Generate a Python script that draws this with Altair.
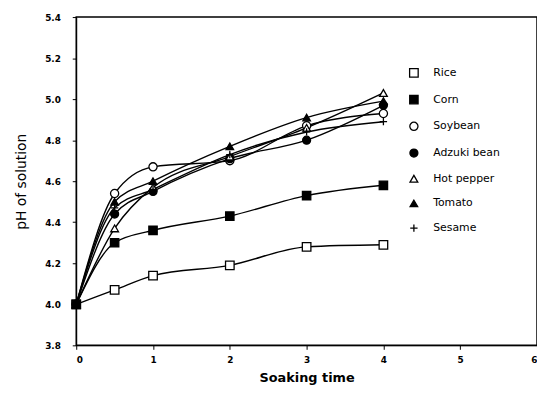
import altair as alt
import pandas as pd

times = [0, 0.5, 1, 2, 3, 4]
crops = ["Rice", "Corn", "Soybean", "Adzuki  bean", "Hot  pepper", "Tomato", "Sesame"]
rice = [4.00, 4.07, 4.14, 4.19, 4.28, 4.29]
corn = [4.00, 4.30, 4.36, 4.43, 4.53, 4.58]
soybean = [4.00, 4.54, 4.67, 4.70, 4.87, 4.93]
adzuki = [4.00, 4.44, 4.55, 4.71, 4.80, 4.97]
hot_pepper = [4.00, 4.37, 4.57, 4.72, 4.86, 5.03]
tomato = [4.00, 4.50, 4.60, 4.77, 4.91, 4.99]
sesame = [4.00, 4.47, 4.56, 4.73, 4.84, 4.89]
x_ticks = [0, 1, 2, 3, 4, 5, 6]
y_ticks = [3.8, 4.0, 4.2, 4.4, 4.6, 4.8, 5.0, 5.2, 5.4]

series = [rice, corn, soybean, adzuki, hot_pepper, tomato, sesame]
rows = []
for name, vals in zip(crops, series):
    for t, v in zip(times, vals):
        rows.append({"crop": name, "time": t, "ph": v})
df = pd.DataFrame(rows)

shapes = ["square", "square", "circle", "circle", "triangle-up", "triangle-up",
          "M-1,0L1,0M0,-1L0,1"]
fills = ["white", "black", "white", "black", "white", "black", "black"]
strokes = ["black"] * 7
sizes = [75, 55, 75, 35, 70, 60, 70]

font = "DejaVu Sans"

x = alt.X("time:Q", title="Soaking time",
          scale=alt.Scale(domain=[0, 6], nice=False),
          axis=alt.Axis(values=x_ticks, format="d", grid=False, domainColor="black",
                        tickColor="black", tickSize=4, labelFont=font, labelFontSize=9,
                        labelFontWeight="bold", labelColor="black", labelPadding=6,
                        titleFont=font, titleFontSize=13, titleFontWeight="bold",
                        titleColor="black", titlePadding=8))
y = alt.Y("ph:Q", title="pH of solution",
          scale=alt.Scale(domain=[3.8, 5.4], nice=False, zero=False),
          axis=alt.Axis(values=y_ticks, format=".1f", grid=False, domainColor="black",
                        tickColor="black", tickSize=4, labelFont=font, labelFontSize=9,
                        labelFontWeight="bold", labelColor="black", labelPadding=12,
                        titleFont=font, titleFontSize=14, titleFontWeight="normal",
                        titleColor="black", titlePadding=16))

lines = alt.Chart(df).mark_line(interpolate="monotone", color="black",
                                strokeWidth=1.4).encode(
    x=x, y=y, detail="crop:N")

legend = alt.Legend(title=None, orient="none", legendX=336, legendY=51,
                    labelFont=font, labelFontSize=11, labelColor="black",
                    labelOffset=14, rowPadding=12, padding=0,
                    symbolStrokeWidth=1.3)

points = alt.Chart(df).mark_point(filled=False, strokeWidth=1.3, opacity=1).encode(
    x=x, y=y,
    shape=alt.Shape("crop:N", scale=alt.Scale(domain=crops, range=shapes), legend=legend),
    fill=alt.Fill("crop:N", scale=alt.Scale(domain=crops, range=fills), legend=legend),
    stroke=alt.Stroke("crop:N", scale=alt.Scale(domain=crops, range=strokes), legend=legend),
    size=alt.Size("crop:N", scale=alt.Scale(domain=crops, range=sizes), legend=legend),
)

chart = (lines + points).properties(
    width=466, height=332,
    autosize=alt.AutoSizeParams(type="none"),
    padding={"left": 69, "top": 7, "right": 0, "bottom": 42},
    background="white",
).configure_view(stroke="black", strokeWidth=1.5)

chart.save("out.html", embed_options={"renderer": "svg", "actions": False})
